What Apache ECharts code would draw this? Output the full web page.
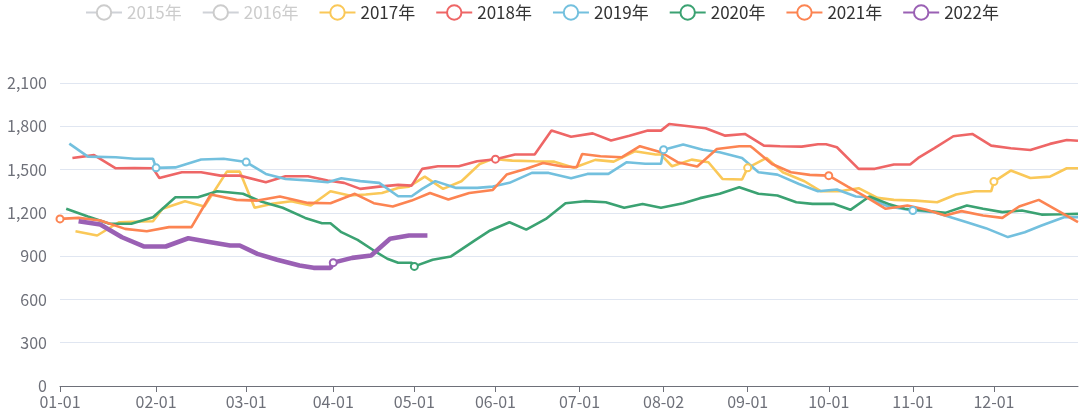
<!DOCTYPE html>
<html>
<head>
<meta charset="utf-8">
<script src="https://cdn.jsdelivr.net/npm/echarts@6/dist/echarts.min.js"></script>
<style>
html,body{margin:0;padding:0;background:#fff;}
#chart{width:1080px;height:418px;}
</style>
</head>
<body>
<div id="chart"></div>
<script>
// ---- data ----
const years = ['2015年','2016年','2017年','2018年','2019年','2020年','2021年','2022年'];
const tickDates = ['01-01','02-01','03-01','04-01','05-01','06-01','07-01','08-02','09-01','10-01','11-01','12-01','12-31'];
const tickSlots = [0, 32, 62, 91, 118, 145, 173, 201, 229, 256, 284, 311, 339];
const yTicks = [0, 300, 600, 900, 1200, 1500, 1800, 2100];

const s2015 = [];
const s2016 = [];
const s2017 = [['01-06',1073],['01-13',1043],['01-20',1135],['01-27',1140],['01-31',1142],['02-03',1228],['02-10',1281],['02-16',1244],['02-23',1486],['02-27',1486],['03-04',1235],['03-10',1262],['03-17',1281],['03-24',1251],['03-31',1350],['04-07',1320],['04-13',1327],['04-19',1338],['04-25',1373],['04-29',1382],['05-05',1451],['05-12',1366],['05-19',1419],['05-26',1539],['05-31',1574],['06-07',1562],['06-15',1558],['06-22',1555],['06-29',1512],['07-07',1567],['07-14',1555],['07-22',1627],['07-30',1604],['08-01',1604],['08-05',1523],['08-12',1569],['08-18',1551],['08-23',1435],['08-30',1431],['09-01',1512],['09-08',1581],['09-14',1481],['09-22',1419],['09-28',1350],['10-05',1350],['10-12',1371],['10-19',1304],['10-25',1290],['11-02',1285],['11-10',1274],['11-17',1327],['11-24',1350],['11-30',1350],['12-01',1417],['12-07',1493],['12-14',1442],['12-21',1451],['12-27',1509],['12-31',1509]];
const s2018 = [['01-05',1580],['01-12',1600],['01-19',1509],['01-25',1511],['01-31',1509],['02-02',1442],['02-09',1481],['02-15',1481],['02-21',1458],['02-27',1458],['03-08',1412],['03-15',1454],['03-23',1454],['03-30',1424],['04-05',1408],['04-11',1366],['04-18',1382],['04-25',1394],['04-30',1389],['05-04',1505],['05-10',1523],['05-18',1523],['05-25',1558],['06-01',1572],['06-08',1604],['06-15',1604],['06-21',1770],['06-28',1728],['07-06',1751],['07-13',1701],['07-20',1735],['07-27',1770],['08-01',1770],['08-04',1816],['08-11',1800],['08-17',1786],['08-24',1735],['08-31',1747],['09-07',1666],['09-13',1662],['09-21',1659],['09-27',1676],['09-30',1676],['10-04',1655],['10-12',1505],['10-18',1505],['10-25',1535],['10-31',1535],['11-03',1581],['11-09',1648],['11-16',1731],['11-23',1747],['11-30',1666],['12-07',1648],['12-14',1636],['12-21',1678],['12-27',1705],['12-31',1700]];
const s2019 = [['01-04',1680],['01-10',1590],['01-19',1585],['01-25',1575],['01-31',1575],['02-01',1512],['02-07',1515],['02-15',1570],['02-22',1575],['03-01',1552],['03-08',1470],['03-15',1435],['03-23',1425],['03-30',1412],['04-04',1440],['04-11',1420],['04-18',1408],['04-25',1315],['04-30',1315],['05-04',1366],['05-09',1420],['05-17',1373],['05-25',1373],['05-31',1382],['06-06',1408],['06-14',1477],['06-20',1477],['06-28',1440],['07-04',1470],['07-12',1470],['07-19',1551],['07-26',1540],['08-01',1540],['08-02',1638],['08-09',1673],['08-16',1638],['08-22',1620],['08-30',1580],['09-05',1481],['09-12',1465],['09-20',1400],['09-27',1350],['10-04',1362],['10-11',1313],['10-15',1308],['10-23',1244],['11-01',1216],['11-09',1205],['11-21',1135],['11-28',1094],['12-06',1032],['12-12',1066],['12-18',1112],['12-26',1170],['12-31',1170]];
const s2020 = [['01-03',1228],['01-10',1175],['01-17',1124],['01-24',1124],['01-31',1170],['02-07',1308],['02-14',1308],['02-20',1350],['02-28',1332],['03-06',1281],['03-14',1235],['03-22',1165],['03-28',1128],['03-31',1128],['04-04',1066],['04-10',1013],['04-16',939],['04-21',882],['04-25',854],['04-30',854],['05-01',829],['05-08',875],['05-15',898],['05-24',1008],['05-30',1078],['06-06',1135],['06-12',1084],['06-19',1158],['06-26',1267],['07-03',1281],['07-11',1274],['07-18',1235],['07-25',1262],['08-01',1235],['08-09',1267],['08-15',1302],['08-22',1332],['08-29',1378],['09-05',1332],['09-12',1320],['09-19',1274],['09-25',1262],['10-03',1262],['10-09',1221],['10-16',1313],['10-23',1262],['10-29',1228],['11-05',1216],['11-13',1200],['11-21',1251],['11-27',1228],['12-04',1205],['12-11',1216],['12-18',1188],['12-25',1190],['12-31',1193]];
const s2021 = [['01-01',1158],['01-07',1165],['01-14',1147],['01-22',1089],['01-29',1073],['02-05',1101],['02-12',1101],['02-18',1327],['02-26',1290],['03-05',1285],['03-13',1313],['03-23',1269],['03-31',1267],['04-09',1332],['04-16',1267],['04-23',1244],['04-30',1285],['05-07',1338],['05-14',1292],['05-22',1338],['05-31',1359],['06-05',1465],['06-12',1505],['06-18',1546],['06-25',1521],['06-30',1516],['07-02',1608],['07-09',1592],['07-17',1585],['07-24',1662],['08-01',1620],['08-07',1551],['08-14',1521],['08-21',1643],['08-29',1662],['09-02',1662],['09-03',1648],['09-10',1539],['09-17',1481],['09-24',1463],['10-01',1458],['10-08',1382],['10-15',1308],['10-22',1228],['10-30',1251],['11-06',1221],['11-13',1182],['11-19',1212],['11-27',1182],['12-04',1165],['12-10',1244],['12-17',1290],['12-31',1135]];
const s2022 = [['01-07',1142],['01-14',1119],['01-21',1031],['01-28',967],['02-04',967],['02-11',1024],['02-18',997],['02-24',974],['02-27',974],['03-05',916],['03-12',875],['03-20',835],['03-25',819],['03-31',819],['04-01',855],['04-08',888],['04-15',904],['04-22',1020],['04-29',1043],['05-06',1043]];

const seriesData = [s2015, s2016, s2017, s2018, s2019, s2020, s2021, s2022];
const colors = ['#5470c6','#91cc75','#fac858','#ee6666','#73c0de','#3ba272','#fc8452','#9a60b4'];

// ---- date -> axis position ----
const cum = [0,31,59,90,120,151,181,212,243,273,304,334];
function doy(s){ const m = +s.slice(0,2), d = +s.slice(3,5); return cum[m-1] + d - 1; }
const tickDoy = tickDates.map(doy);
function toSlot(s){
  const t = doy(s);
  for (let i = 0; i < tickDoy.length - 1; i++) {
    if (t <= tickDoy[i+1]) {
      const f = (t - tickDoy[i]) / (tickDoy[i+1] - tickDoy[i]);
      return tickSlots[i] + f * (tickSlots[i+1] - tickSlots[i]);
    }
  }
  return tickSlots[tickSlots.length - 1];
}
const labelSlots = tickSlots.slice(0, 12);
const FONT = '"Noto Sans CJK SC", "Noto Sans", sans-serif';

const series = years.map((name, i) => ({
  name: name,
  type: 'line',
  symbol: 'emptyCircle',
  symbolSize: 7,
  showSymbol: true,
  lineStyle: { width: i === 7 ? 4.6 : 2.6 },
  itemStyle: { borderWidth: 2.4 },
  emphasis: { disabled: true },
  data: seriesData[i].map(p => {
    const isTick = tickDates.slice(0, 12).indexOf(p[0]) >= 0;
    return isTick ? { value: [toSlot(p[0]), p[1]] } : { value: [toSlot(p[0]), p[1]], symbol: 'none' };
  })
}));

const chart = echarts.init(document.getElementById('chart'));
chart.setOption({
  animation: false,
  color: colors,
  textStyle: { fontFamily: FONT },
  legend: {
    top: -1,
    left: 80,
    itemWidth: 36,
    itemHeight: 18,
    itemGap: 20,
    textStyle: { fontSize: 17, color: '#333', fontFamily: FONT },
    inactiveColor: '#ccc',
    selected: { '2015年': false, '2016年': false },
    data: years
  },
  grid: { left: 60, right: 2, top: 83, bottom: 32 },
  xAxis: {
    type: 'value',
    min: 0,
    max: tickSlots[tickSlots.length - 1],
    splitLine: { show: false },
    axisLine: { show: true, lineStyle: { color: '#6e7079' } },
    axisTick: { show: true, customValues: labelSlots, length: 6, lineStyle: { color: '#6e7079' } },
    axisLabel: {
      customValues: labelSlots,
      fontSize: 16,
      color: '#6e7079',
      margin: 8,
      fontFamily: FONT,
      formatter: v => { const k = labelSlots.indexOf(v); return k >= 0 ? tickDates[k] : ''; }
    }
  },
  yAxis: {
    type: 'value',
    min: yTicks[0],
    max: yTicks[yTicks.length - 1],
    interval: 300,
    axisLine: { show: false },
    axisTick: { show: false },
    splitLine: { lineStyle: { color: '#E0E6F1' } },
    axisLabel: {
      fontSize: 16,
      color: '#6e7079',
      margin: 13,
      fontFamily: FONT,
      formatter: v => v.toLocaleString('en-US')
    }
  },
  series: series
});
</script>
</body>
</html>
